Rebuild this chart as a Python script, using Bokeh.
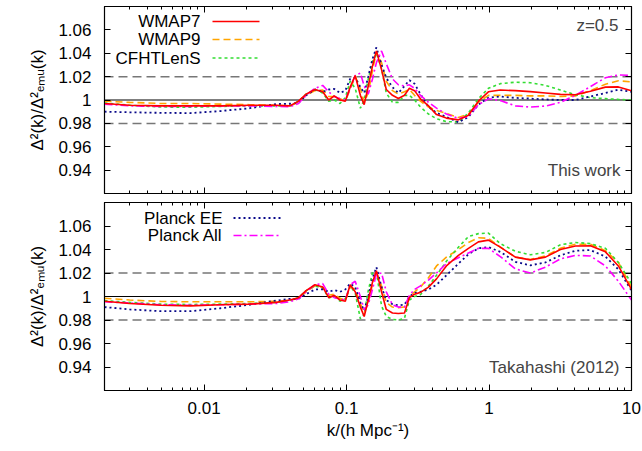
import math
from bokeh.plotting import figure
from bokeh.layouts import column
from bokeh.models import (Range1d, FixedTicker, LinearAxis, LogAxis, Span, Label,
                          Arrow, PrintfTickFormatter)
from bokeh.embed import file_html
from bokeh.resources import INLINE

# ---------------- data ----------------
k = [0.002, 0.003, 0.005, 0.008, 0.013, 0.021, 0.032,
     0.040, 0.046, 0.052, 0.060, 0.068, 0.075, 0.082, 0.090, 0.098,
     0.106, 0.115, 0.125, 0.133, 0.142, 0.152, 0.162, 0.176, 0.190,
     0.210, 0.231, 0.255, 0.276, 0.300, 0.330, 0.376, 0.428, 0.502,
     0.610, 0.717, 0.842, 0.990, 1.20, 1.53, 1.95, 2.49, 3.17,
     4.04, 5.15, 6.56, 8.09, 10.0]

# top panel: "This work"
top_wmap7 = [0.997, 0.9955, 0.995, 0.995, 0.995, 0.9955, 0.9955,
             0.995, 0.999, 1.005, 1.009, 1.007, 1.000, 1.0035, 1.000, 0.999,
             1.011, 1.021, 1.004, 0.996, 1.012, 1.029, 1.042, 1.026, 1.009,
             1.004, 1.0013, 1.004, 1.010, 1.008, 1.001, 0.995, 0.9875, 0.9845,
             0.983, 0.987, 0.999, 1.007, 1.0085, 1.008, 1.0072, 1.006, 1.0048,
             1.0045, 1.0075, 1.011, 1.0112, 1.008]
top_wmap9 = [0.999, 0.998, 0.997, 0.997, 0.9965, 0.996, 0.9955,
             0.995, 0.998, 1.004, 1.008, 1.0085, 1.003, 1.003, 1.001, 0.999,
             1.009, 1.020, 1.010, 0.998, 1.006, 1.025, 1.041, 1.032, 1.016,
             1.008, 1.005, 1.007, 1.009, 1.004, 0.999, 0.994, 0.991, 0.9885,
             0.985, 0.988, 0.998, 1.004, 1.004, 1.004, 1.0035, 1.0035, 1.003,
             1.0035, 1.008, 1.0135, 1.0165, 1.0155]
top_cfhtlens = [0.9975, 0.9955, 0.994, 0.9938, 0.9945, 0.995, 0.995,
                0.9945, 0.999, 1.005, 1.009, 1.006, 0.999, 1.000, 0.997, 1.002,
                1.016, 1.010, 0.993, 1.000, 1.018, 1.033, 1.040, 1.027, 1.006,
                0.998, 0.998, 1.004, 1.004, 1.000, 0.994, 0.988, 0.984, 0.9815,
                0.9812, 0.989, 1.001, 1.010, 1.014, 1.0152, 1.0148, 1.0125, 1.0085,
                1.0045, 1.002, 1.0012, 1.0005, 1.0]
top_planck_ee = [0.990, 0.9895, 0.989, 0.9888, 0.9905, 0.993, 0.9965,
                 0.9968, 0.9975, 1.004, 1.009, 1.007, 1.009, 1.0095, 1.006, 1.008,
                 1.018, 1.019, 1.011, 1.006, 1.020, 1.035, 1.045, 1.030, 1.019,
                 1.011, 1.006, 1.012, 1.017, 1.014, 1.005, 0.994, 0.989, 0.9855,
                 0.981, 0.9855, 0.996, 1.002, 1.003, 1.0018, 1.0012, 1.0005, 1.0,
                 1.0, 1.003, 1.006, 1.0088, 1.007]
top_planck_all = [0.9965, 0.995, 0.9945, 0.9945, 0.995, 0.995, 0.9945,
                  0.9943, 0.997, 1.004, 1.010, 1.0125, 1.007, 1.003, 1.001, 1.000,
                  1.010, 1.021, 1.023, 1.012, 1.005, 1.018, 1.032, 1.042, 1.031,
                  1.018, 1.013, 1.012, 1.013, 1.010, 1.004, 0.998, 0.993, 0.988,
                  0.9842, 0.986, 0.996, 1.001, 0.9995, 0.995, 0.994, 0.9948, 0.998,
                  1.004, 1.0115, 1.019, 1.0215, 1.021]

# bottom panel: "Takahashi (2012)"
bot_wmap7 = [0.996, 0.994, 0.9925, 0.992, 0.993, 0.9935, 0.995,
             0.997, 0.999, 1.005, 1.010, 1.008, 0.999, 1.001, 0.997, 0.996,
             1.010, 1.004, 0.991, 0.983, 0.997, 1.012, 1.022, 1.004, 0.989,
             0.986, 0.9855, 0.986, 0.999, 1.002, 1.0035, 1.008, 1.015, 1.026,
             1.035, 1.041, 1.0465, 1.048, 1.042, 1.0335, 1.0312, 1.0335, 1.040,
             1.043, 1.0432, 1.038, 1.026, 1.006]
bot_wmap9 = [0.9985, 0.997, 0.9958, 0.9955, 0.9955, 0.9955, 0.996,
             0.9968, 0.9985, 1.004, 1.009, 1.008, 1.001, 1.002, 0.9985, 0.9965,
             1.008, 1.006, 0.994, 0.986, 0.995, 1.010, 1.021, 1.009, 0.995,
             0.991, 0.9905, 0.991, 1.000, 1.004, 1.008, 1.016, 1.026, 1.0335,
             1.040, 1.046, 1.050, 1.0495, 1.042, 1.0335, 1.0315, 1.0345, 1.041,
             1.0445, 1.0445, 1.039, 1.029, 1.008]
bot_cfhtlens = [0.9965, 0.995, 0.9935, 0.9932, 0.9935, 0.994, 0.995,
                0.9965, 0.999, 1.005, 1.009, 1.007, 0.999, 1.000, 0.996, 0.998,
                1.009, 1.003, 0.981, 0.985, 1.005, 1.020, 1.021, 0.992, 0.983,
                0.9805, 0.980, 0.9815, 0.997, 1.000, 1.0015, 1.009, 1.018, 1.030,
                1.042, 1.051, 1.0535, 1.054, 1.045, 1.0385, 1.0355, 1.0375, 1.044,
                1.046, 1.045, 1.041, 1.029, 1.011]
bot_planck_ee = [0.991, 0.989, 0.9875, 0.9875, 0.990, 0.993, 0.9965,
                 0.998, 0.998, 1.002, 1.006, 1.006, 1.004, 1.0055, 1.004, 1.006,
                 1.011, 1.008, 0.995, 0.988, 1.000, 1.015, 1.025, 1.008, 0.997,
                 0.9935, 0.9925, 0.993, 1.000, 1.003, 1.004, 1.006, 1.010, 1.018,
                 1.028, 1.036, 1.041, 1.042, 1.038, 1.0295, 1.0265, 1.029, 1.035,
                 1.039, 1.0395, 1.034, 1.023, 1.005]
bot_planck_all = [0.9955, 0.9945, 0.993, 0.9925, 0.993, 0.9935, 0.994,
                  0.9955, 0.998, 1.004, 1.010, 1.011, 1.002, 0.999, 0.998, 0.997,
                  1.010, 1.013, 1.000, 0.989, 0.993, 1.006, 1.019, 1.020, 1.004,
                  0.993, 0.991, 0.991, 1.001, 1.006, 1.009, 1.014, 1.020, 1.028,
                  1.033, 1.037, 1.041, 1.041, 1.034, 1.0235, 1.020, 1.025, 1.032,
                  1.035, 1.0345, 1.026, 1.013, 0.997]

series_names = ["WMAP7", "WMAP9", "CFHTLenS", "Planck EE", "Planck All"]
x_ticks = [0.01, 0.1, 1, 10]
y_ticks = [0.94, 0.96, 0.98, 1.0, 1.02, 1.04, 1.06]
ref_lines = [0.98, 1.02]

# ---------------- style ----------------
FONT = "Liberation Sans"
FS = "17px"
XMIN, XMAX = 0.002, 10.0
YMIN, YMAX = 0.92, 1.08
FW = 527
styles = {
    "WMAP7": dict(line_color="#ff0000", line_width=1.6, line_dash="solid"),
    "WMAP9": dict(line_color="#ffa500", line_width=1.6, line_dash="7 4"),
    "CFHTLenS": dict(line_color="#33dd33", line_width=1.6, line_dash="3 3"),
    "Planck EE": dict(line_color="#0a0a8a", line_width=1.8, line_dash="2 3"),
    "Planck All": dict(line_color="#ff00ff", line_width=1.6, line_dash="8 3 2 3"),
}
minor_x = [m * 10.0 ** e for e in range(-3, 1) for m in range(2, 10)]
minor_x = [v for v in minor_x if XMIN <= v <= XMAX]


def px2k(px):
    return 10 ** (math.log10(XMIN) + (px - 104) / FW * math.log10(XMAX / XMIN))


def py2v(py, top, fh):
    return YMAX - (py - top) / fh * (YMAX - YMIN)


def hide_labels(ax):
    ax.major_label_text_font_size = "0px"
    ax.major_label_text_color = None
    ax.major_label_standoff = 0


def make_panel(fh, btop, bbot, show_x):
    p = figure(x_axis_type="log", x_range=Range1d(XMIN, XMAX), y_range=Range1d(YMIN, YMAX),
               frame_width=FW, frame_height=fh, min_border_left=104, min_border_right=11,
               min_border_top=btop, min_border_bottom=bbot,
               output_backend="svg", toolbar_location=None)
    p.grid.visible = False
    p.outline_line_color = "black"
    p.outline_line_width = 1.2
    xt = FixedTicker(ticks=x_ticks, minor_ticks=minor_x)
    yt = FixedTicker(ticks=y_ticks, minor_ticks=[])
    xa = p.xaxis[0]
    xa.ticker = xt
    xa.formatter = PrintfTickFormatter(format="%g")
    ya = p.yaxis[0]
    ya.ticker = yt
    ya.formatter = PrintfTickFormatter(format="%g")
    for ax in (xa, ya):
        ax.major_tick_in = 6
        ax.major_tick_out = 0
        ax.minor_tick_in = 3
        ax.minor_tick_out = 0
        ax.axis_line_color = "black"
        ax.major_label_text_font = FONT
        ax.major_label_text_font_size = FS
        ax.major_label_text_color = "black"
        ax.axis_label_text_font = FONT
        ax.axis_label_text_font_size = FS
        ax.axis_label_text_font_style = "normal"
        ax.axis_label_text_color = "black"
    ya.major_label_standoff = 13
    ya.axis_label = "Δ²(k)/Δ²ₑₘᵤ(k)"
    ya.axis_label_standoff = 8
    if show_x:
        xa.major_label_standoff = 11
        xa.axis_label = "k/(h Mpc⁻¹)"
        xa.axis_label_standoff = 4
    else:
        hide_labels(xa)
    ra = LinearAxis(ticker=yt, major_tick_in=6, major_tick_out=0, minor_tick_in=0, minor_tick_out=0)
    hide_labels(ra)
    p.add_layout(ra, "right")
    ta = LogAxis(ticker=xt, major_tick_in=6, major_tick_out=0, minor_tick_in=3, minor_tick_out=0)
    hide_labels(ta)
    p.add_layout(ta, "above")

    p.add_layout(Span(location=1.0, dimension="width", line_color="black", line_width=1.2,
                      level="underlay"))
    for r in ref_lines:
        p.add_layout(Span(location=r, dimension="width", line_color="#777777", line_width=1.5,
                          line_dash="9 5", level="underlay"))
    return p


def add_series(p, data):
    order = ["WMAP9", "CFHTLenS", "Planck EE", "Planck All", "WMAP7"]
    for name in order:
        p.line(k, data[name], **styles[name])


def legend_entry(p, name, py, text_right, x0, x1, top, fh):
    y = py2v(py, top, fh)
    p.add_layout(Label(x=px2k(text_right), y=y, text=name, text_align="right",
                       text_baseline="middle", text_font=FONT, text_font_size=FS,
                       text_color="black"))
    st = styles[name]
    p.add_layout(Arrow(end=None, x_start=px2k(x0), y_start=y, x_end=px2k(x1), y_end=y,
                       line_color=st["line_color"], line_width=st["line_width"],
                       line_dash=st["line_dash"]))


# ---------------- top panel ----------------
T_TOP, T_FH = 6, 187
p1 = make_panel(T_FH, T_TOP, 5, False)
add_series(p1, dict(zip(series_names, [top_wmap7, top_wmap9, top_cfhtlens, top_planck_ee, top_planck_all])))
legend_entry(p1, "WMAP7", 21, 200, 212, 259, T_TOP, T_FH)
legend_entry(p1, "WMAP9", 39, 200, 212, 259, T_TOP, T_FH)
legend_entry(p1, "CFHTLenS", 57.5, 200, 212, 259, T_TOP, T_FH)
p1.add_layout(Label(x=px2k(618), y=py2v(25, T_TOP, T_FH), text="z=0.5", text_align="right",
                    text_baseline="middle", text_font=FONT, text_font_size=FS))
p1.add_layout(Label(x=px2k(620), y=py2v(170, T_TOP, T_FH), text="This work", text_align="right",
                    text_baseline="middle", text_font=FONT, text_font_size=FS))

# ---------------- bottom panel ----------------
B_TOP, B_FH = 202, 188
p2 = make_panel(B_FH, 4, 61, True)
add_series(p2, dict(zip(series_names, [bot_wmap7, bot_wmap9, bot_cfhtlens, bot_planck_ee, bot_planck_all])))
legend_entry(p2, "Planck EE", 217.5, 222, 233, 281, B_TOP, B_FH)
legend_entry(p2, "Planck All", 235, 222, 233, 281, B_TOP, B_FH)
p2.add_layout(Label(x=px2k(619), y=py2v(366.5, B_TOP, B_FH), text="Takahashi (2012)",
                    text_align="right", text_baseline="middle", text_font=FONT, text_font_size=FS))

layout = column(p1, p2, spacing=0)
open("out.html", "w").write(file_html(layout, INLINE))
